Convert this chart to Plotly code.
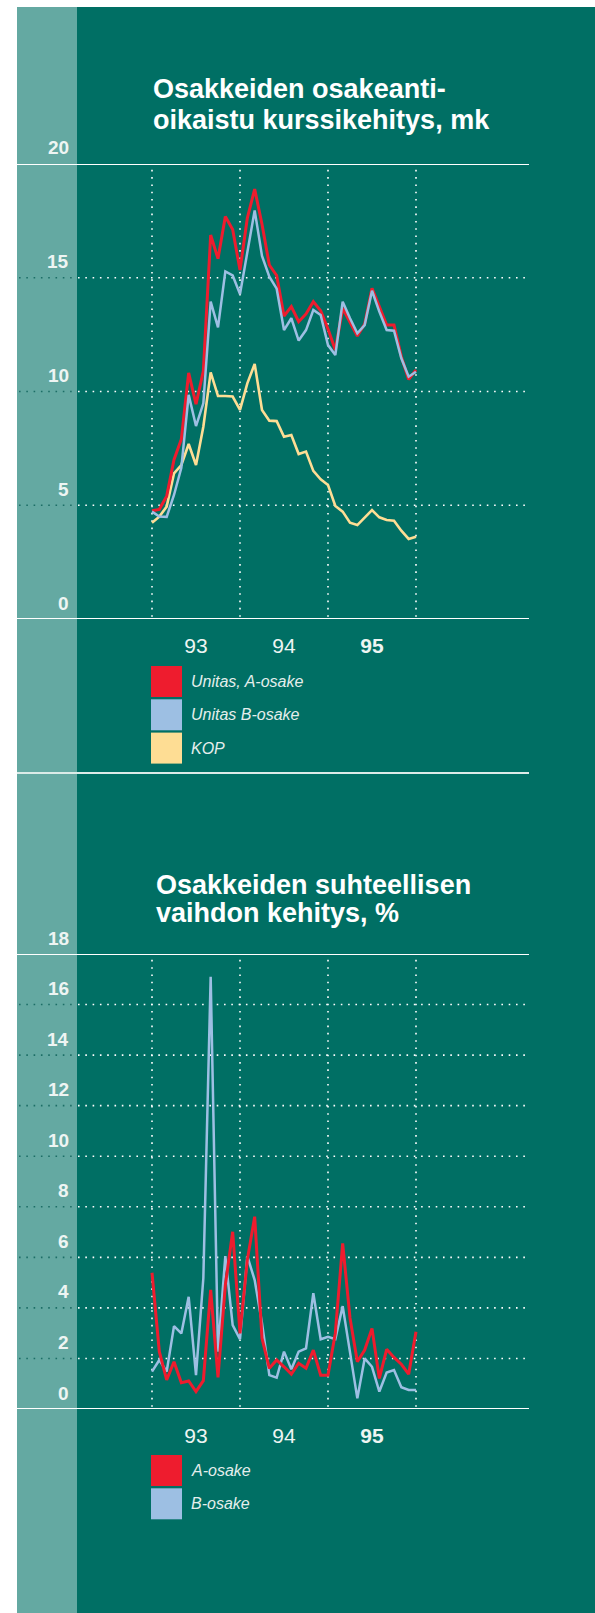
import plotly.graph_objects as go

# ---------------- data ----------------
months = list(range(37))            # monthly observations, Jan 1993 ... Jan 1996
year_bounds = [0, 12, 24, 36]       # year boundaries (dotted vertical lines)
year_tick_pos = [6, 18, 30]
year_labels = ["93", "94", "<b>95</b>"]

unitas_a = [4.76, 4.82, 5.40, 7.00, 7.90, 10.82, 9.44, 10.90, 16.88, 15.84, 17.69, 17.12,
            15.34, 17.62, 18.90, 17.35, 15.56, 15.10, 13.32, 13.73, 13.07, 13.41, 13.95, 13.55,
            12.75, 11.82, 13.66, 13.07, 12.44, 12.97, 14.54, 13.73, 12.92, 12.92, 11.53, 10.53, 10.95]
unitas_b = [4.72, 4.50, 4.49, 5.45, 6.65, 9.85, 8.48, 9.48, 13.95, 12.82, 15.28, 15.10,
            14.28, 16.12, 17.96, 15.96, 15.05, 14.52, 12.70, 13.22, 12.24, 12.70, 13.58, 13.36,
            12.04, 11.60, 13.95, 13.22, 12.56, 12.92, 14.43, 13.51, 12.70, 12.67, 11.46, 10.65, 10.87]
kop = [4.23, 4.50, 4.94, 6.40, 6.77, 7.69, 6.77, 8.45, 10.84, 9.80, 9.80, 9.78,
       9.19, 10.36, 11.21, 9.19, 8.72, 8.70, 8.01, 8.09, 7.25, 7.36, 6.51, 6.14,
       5.89, 4.97, 4.72, 4.23, 4.13, 4.47, 4.79, 4.47, 4.35, 4.32, 3.88, 3.52, 3.62]

turn_a = [5.39, 2.27, 1.15, 1.87, 1.04, 1.11, 0.69, 1.12, 4.71, 1.25, 4.90, 7.01,
          2.99, 5.90, 7.61, 2.80, 1.61, 1.94, 1.67, 1.38, 1.81, 1.61, 2.33, 1.34,
          1.34, 3.00, 6.55, 3.60, 1.87, 2.33, 3.19, 1.21, 2.36, 2.04, 1.77, 1.38, 3.06]
turn_b = [1.48, 1.94, 1.48, 3.28, 2.99, 4.44, 1.34, 5.17, 17.10, 2.27, 6.05, 3.32,
          2.76, 6.05, 5.10, 3.39, 1.34, 1.24, 2.27, 1.57, 2.27, 2.40, 4.58, 2.76,
          2.86, 2.76, 4.07, 2.33, 0.42, 2.00, 1.67, 0.69, 1.44, 1.54, 0.86, 0.75, 0.75]

title1 = ["Osakkeiden osakeanti-", "oikaistu kurssikehitys, mk"]
title2 = ["Osakkeiden suhteellisen", "vaihdon kehitys, %"]
legend1 = ["Unitas, A-osake", "Unitas B-osake", "KOP"]
legend2 = ["A-osake", "B-osake"]
y1_ticks = [0, 5, 10, 15, 20]
y1_grid = [5, 10, 15]
y2_ticks = [0, 2, 4, 6, 8, 10, 12, 14, 16, 18]
y2_grid = [2, 4, 6, 8, 10, 12, 14, 16]

# ---------------- style ----------------
W, H = 595, 1613
GREEN = "#006f64"
BAND = "#64a9a2"
RED = "#ee1c2e"
BLUE = "#9dbfe3"
YELLOW = "#fedd94"
TXT = "#eef5f3"
FONT = "Liberation Sans"
DOT = "1.6px,5.7px"


def fx(px):
    return min(max(px / W, 0), 1)


def fy(py):
    return min(max(1 - py / H, 0), 1)


# horizontal pixel layout: month 0 at px 152, month 36 at px 416
PX0, PX36 = 152, 416
LEFT, RIGHT = 17, 529
ppm = (PX36 - PX0) / 36.0
x_range = [-(PX0 - LEFT) / ppm, 36 + (RIGHT - PX36) / ppm]

fig = go.Figure()

# chart 1 traces
fig.add_trace(go.Scatter(x=months, y=kop, mode="lines", line=dict(color=YELLOW, width=2.6),
                         xaxis="x", yaxis="y", name=legend1[2]))
fig.add_trace(go.Scatter(x=months, y=unitas_a, mode="lines", line=dict(color=RED, width=3),
                         xaxis="x", yaxis="y", name=legend1[0]))
fig.add_trace(go.Scatter(x=months, y=unitas_b, mode="lines", line=dict(color=BLUE, width=2.5),
                         xaxis="x", yaxis="y", name=legend1[1]))
# chart 2 traces
fig.add_trace(go.Scatter(x=months, y=turn_b, mode="lines", line=dict(color=BLUE, width=2.5),
                         xaxis="x2", yaxis="y2", name=legend2[1]))
fig.add_trace(go.Scatter(x=months, y=turn_a, mode="lines", line=dict(color=RED, width=3),
                         xaxis="x2", yaxis="y2", name=legend2[0]))

shapes = []
# page backgrounds
shapes.append(dict(type="rect", xref="paper", yref="paper", x0=fx(17), x1=1, y0=0, y1=fy(7),
                   fillcolor=GREEN, line_width=0, layer="below"))
shapes.append(dict(type="rect", xref="paper", yref="paper", x0=fx(17), x1=fx(77), y0=0, y1=fy(7),
                   fillcolor=BAND, line_width=0, layer="below"))

annotations = []


def chart_parts(xr, yr, grid, ticks, ymax):
    out = []
    for v in grid:
        out.append(dict(type="line", xref="paper", yref=yr, x0=fx(19), x1=fx(77), y0=v, y1=v,
                        line=dict(color="#1c6e66", width=1.6, dash=DOT), layer="below"))
        out.append(dict(type="line", xref="paper", yref=yr, x0=fx(78), x1=fx(527), y0=v, y1=v,
                        line=dict(color="white", width=1.6, dash=DOT), layer="below"))
    for b in year_bounds:
        out.append(dict(type="line", xref=xr, yref=yr + " domain", x0=b, x1=b, y0=0.005, y1=0.993,
                        line=dict(color="white", width=1.6, dash=DOT), layer="below"))
    for v in (0, ymax):
        out.append(dict(type="line", xref="paper", yref=yr, x0=fx(LEFT), x1=fx(RIGHT), y0=v, y1=v,
                        line=dict(color="white", width=2.2), layer="below"))
    # value labels, sitting just above their grid line, right-aligned in the pale band
    for v in ticks:
        annotations.append(dict(text=str(v), xref="paper", yref=yr, x=fx(71), y=v, yshift=16,
                                xanchor="right", yanchor="middle", showarrow=False,
                                font=dict(family=FONT, size=19, color=TXT, weight="bold")))
    return out


shapes += chart_parts("x", "y", y1_grid, y1_ticks, 20)
shapes += chart_parts("x2", "y2", y2_grid, y2_ticks, 18)

# separator line between the charts
shapes.append(dict(type="line", xref="paper", yref="paper", x0=fx(LEFT), x1=fx(RIGHT),
                   y0=fy(773), y1=fy(773), line=dict(color="#dcebe8", width=2), layer="below"))

# titles
for txt, mid in zip(title1, [89, 120]):
    annotations.append(dict(text=txt, xref="paper", yref="paper", x=fx(151), y=fy(mid),
                            xanchor="left", yanchor="middle", showarrow=False,
                            font=dict(family=FONT, size=27, color="white", weight="bold")))
for txt, mid in zip(title2, [885, 913]):
    annotations.append(dict(text=txt, xref="paper", yref="paper", x=fx(154), y=fy(mid),
                            xanchor="left", yanchor="middle", showarrow=False,
                            font=dict(family=FONT, size=27, color="white", weight="bold")))


# legends (colour squares + italic labels)
def legend_block(names, colors, top):
    for k, (nm, col) in enumerate(zip(names, colors)):
        y0 = top + k * 33.3
        shapes.append(dict(type="rect", xref="paper", yref="paper", x0=fx(151), x1=fx(182),
                           y0=fy(y0 + 31), y1=fy(y0), fillcolor=col, line_width=0, layer="below"))
        annotations.append(dict(text="<i>" + nm + "</i>", xref="paper", yref="paper", x=fx(189),
                                y=fy(y0 + 15.5), xanchor="left", yanchor="middle", showarrow=False,
                                font=dict(family=FONT, size=16, color="#e4eeec")))


legend_block(legend1, [RED, BLUE, YELLOW], 666)
legend_block(legend2, [RED, BLUE], 1455)

xcommon = dict(domain=[fx(LEFT), fx(RIGHT)], range=x_range, showgrid=False, zeroline=False,
               showline=False, ticks="", tickvals=year_tick_pos, ticktext=year_labels,
               tickfont=dict(family=FONT, size=21, color=TXT), ticklabelstandoff=12,
               fixedrange=True)
ycommon = dict(showgrid=False, zeroline=False, showline=False, ticks="", showticklabels=False,
               fixedrange=True)

fig.update_layout(
    width=W, height=H, margin=dict(l=0, r=0, t=0, b=0),
    paper_bgcolor="white", plot_bgcolor="rgba(0,0,0,0)",
    showlegend=False,
    xaxis=dict(xcommon, anchor="y"),
    yaxis=dict(ycommon, domain=[fy(619), fy(164)], range=[0, 20], anchor="x"),
    xaxis2=dict(xcommon, anchor="y2"),
    yaxis2=dict(ycommon, domain=[fy(1409), fy(954)], range=[0, 18], anchor="x2"),
    shapes=shapes, annotations=annotations,
)

# drop the browser's default 8px page margin so the 595x1613 figure fills the window exactly
fig.write_html("out.html", config={"displayModeBar": False},
               post_script="document.body.style.margin='0';")
